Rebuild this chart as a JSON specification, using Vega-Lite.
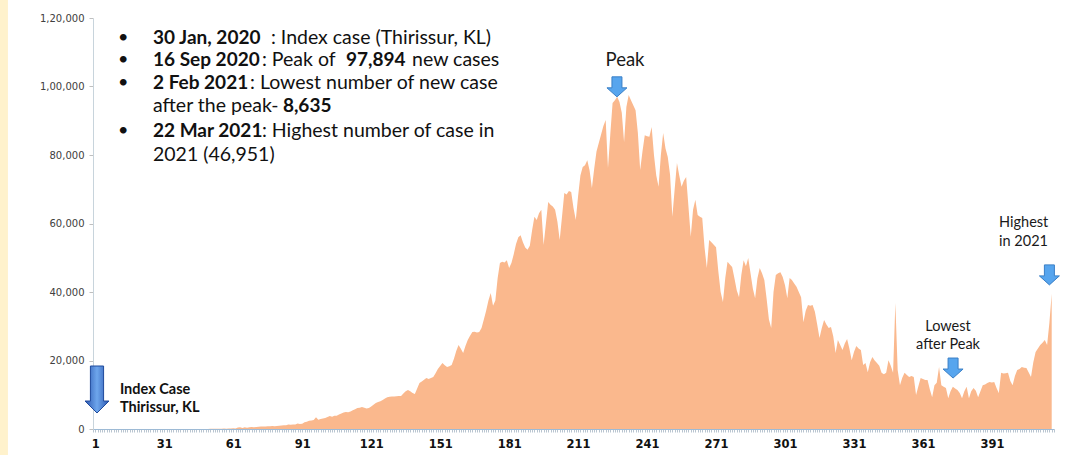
{
  "$schema": "https://vega.github.io/schema/vega-lite/v6.json",
  "width": 961,
  "height": 411,
  "autosize": {"type": "none"},
  "padding": {"left": 93, "top": 18, "right": 38, "bottom": 26},
  "background": "white",
  "config": {"view": {"stroke": null}, "font": "Lato"},
  "datasets": {
    "series": [
      {"day":1,"cases":1},{"day":2,"cases":0},{"day":3,"cases":0},{"day":4,"cases":1},{"day":5,"cases":1},
      {"day":6,"cases":0},{"day":7,"cases":0},{"day":8,"cases":0},{"day":9,"cases":0},{"day":10,"cases":0},
      {"day":11,"cases":0},{"day":12,"cases":0},{"day":13,"cases":0},{"day":14,"cases":0},{"day":15,"cases":0},
      {"day":16,"cases":0},{"day":17,"cases":0},{"day":18,"cases":0},{"day":19,"cases":0},{"day":20,"cases":0},
      {"day":21,"cases":0},{"day":22,"cases":0},{"day":23,"cases":0},{"day":24,"cases":0},{"day":25,"cases":0},
      {"day":26,"cases":0},{"day":27,"cases":0},{"day":28,"cases":0},{"day":29,"cases":0},{"day":30,"cases":0},
      {"day":31,"cases":0},{"day":32,"cases":0},{"day":33,"cases":2},{"day":34,"cases":1},{"day":35,"cases":22},
      {"day":36,"cases":2},{"day":37,"cases":1},{"day":38,"cases":3},{"day":39,"cases":5},{"day":40,"cases":9},
      {"day":41,"cases":15},{"day":42,"cases":8},{"day":43,"cases":10},{"day":44,"cases":12},{"day":45,"cases":10},
      {"day":46,"cases":3},{"day":47,"cases":11},{"day":48,"cases":13},{"day":49,"cases":23},{"day":50,"cases":24},
      {"day":51,"cases":50},{"day":52,"cases":63},{"day":53,"cases":88},{"day":54,"cases":69},{"day":55,"cases":100},
      {"day":56,"cases":64},{"day":57,"cases":125},{"day":58,"cases":75},{"day":59,"cases":171},{"day":60,"cases":160},
      {"day":61,"cases":227},{"day":62,"cases":146},{"day":63,"cases":420},{"day":64,"cases":480},{"day":65,"cases":311},
      {"day":66,"cases":496},{"day":67,"cases":400},{"day":68,"cases":523},{"day":69,"cases":575},{"day":70,"cases":506},
      {"day":71,"cases":566},{"day":72,"cases":680},{"day":73,"cases":720},{"day":74,"cases":760},{"day":75,"cases":700},
      {"day":76,"cases":820},{"day":77,"cases":800},{"day":78,"cases":860},{"day":79,"cases":780},{"day":80,"cases":900},
      {"day":81,"cases":950},{"day":82,"cases":1000},{"day":83,"cases":1080},{"day":84,"cases":1120},{"day":85,"cases":1350},
      {"day":86,"cases":1250},{"day":87,"cases":1300},{"day":88,"cases":1280},{"day":89,"cases":1600},{"day":90,"cases":1460},
      {"day":91,"cases":1550},{"day":92,"cases":2000},{"day":93,"cases":2150},{"day":94,"cases":2400},{"day":95,"cases":2500},
      {"day":96,"cases":2600},{"day":97,"cases":3400},{"day":98,"cases":2700},{"day":99,"cases":2900},{"day":100,"cases":3100},
      {"day":101,"cases":3200},{"day":102,"cases":3500},{"day":103,"cases":3800},{"day":104,"cases":3600},{"day":105,"cases":3900},
      {"day":106,"cases":3850},{"day":107,"cases":4200},{"day":108,"cases":4500},{"day":109,"cases":4800},{"day":110,"cases":5000},
      {"day":111,"cases":4900},{"day":112,"cases":5100},{"day":113,"cases":5500},{"day":114,"cases":5800},{"day":115,"cases":6100},
      {"day":116,"cases":6200},{"day":117,"cases":6400},{"day":118,"cases":6200},{"day":119,"cases":6000},{"day":120,"cases":6100},
      {"day":121,"cases":6600},{"day":122,"cases":7100},{"day":123,"cases":7600},{"day":124,"cases":7900},{"day":125,"cases":8100},
      {"day":126,"cases":8500},{"day":127,"cases":8900},{"day":128,"cases":9300},{"day":129,"cases":9400},{"day":130,"cases":9500},
      {"day":131,"cases":9500},{"day":132,"cases":9550},{"day":133,"cases":9600},{"day":134,"cases":9650},{"day":135,"cases":10400},
      {"day":136,"cases":11000},{"day":137,"cases":11400},{"day":138,"cases":11000},{"day":139,"cases":10500},{"day":140,"cases":10200},
      {"day":141,"cases":11800},{"day":142,"cases":13400},{"day":143,"cases":13900},{"day":144,"cases":14400},{"day":145,"cases":14900},
      {"day":146,"cases":14600},{"day":147,"cases":14900},{"day":148,"cases":15200},{"day":149,"cases":16300},{"day":150,"cases":17500},
      {"day":151,"cases":18400},{"day":152,"cases":19300},{"day":153,"cases":18600},{"day":154,"cases":18100},{"day":155,"cases":18300},
      {"day":156,"cases":18700},{"day":157,"cases":20500},{"day":158,"cases":22800},{"day":159,"cases":24500},{"day":160,"cases":23400},
      {"day":161,"cases":22200},{"day":162,"cases":24200},{"day":163,"cases":26000},{"day":164,"cases":27200},{"day":165,"cases":28300},
      {"day":166,"cases":28400},{"day":167,"cases":28200},{"day":168,"cases":28300},{"day":169,"cases":29500},{"day":170,"cases":32000},
      {"day":171,"cases":34500},{"day":172,"cases":37500},{"day":173,"cases":39700},{"day":174,"cases":36000},{"day":175,"cases":37500},
      {"day":176,"cases":44000},{"day":177,"cases":48500},{"day":178,"cases":48800},{"day":179,"cases":48600},{"day":180,"cases":49300},
      {"day":181,"cases":47000},{"day":182,"cases":48500},{"day":183,"cases":51000},{"day":184,"cases":54000},{"day":185,"cases":56000},
      {"day":186,"cases":56600},{"day":187,"cases":54500},{"day":188,"cases":53000},{"day":189,"cases":52300},{"day":190,"cases":53500},
      {"day":191,"cases":58000},{"day":192,"cases":62000},{"day":193,"cases":61000},{"day":194,"cases":63000},{"day":195,"cases":64000},
      {"day":196,"cases":53700},{"day":197,"cases":60000},{"day":198,"cases":66300},{"day":199,"cases":65500},{"day":200,"cases":65000},
      {"day":201,"cases":64000},{"day":202,"cases":60500},{"day":203,"cases":55200},{"day":204,"cases":62000},{"day":205,"cases":68900},
      {"day":206,"cases":68500},{"day":207,"cases":69500},{"day":208,"cases":69200},{"day":209,"cases":64500},{"day":210,"cases":61000},
      {"day":211,"cases":68000},{"day":212,"cases":74000},{"day":213,"cases":76500},{"day":214,"cases":77000},{"day":215,"cases":78500},
      {"day":216,"cases":75500},{"day":217,"cases":70400},{"day":218,"cases":76000},{"day":219,"cases":81000},{"day":220,"cases":83500},
      {"day":221,"cases":86000},{"day":222,"cases":88500},{"day":223,"cases":90200},{"day":224,"cases":76200},{"day":225,"cases":86000},
      {"day":226,"cases":95200},{"day":227,"cases":96000},{"day":228,"cases":97000},{"day":229,"cases":95500},{"day":230,"cases":92300},
      {"day":231,"cases":83800},{"day":232,"cases":94000},{"day":233,"cases":97500},{"day":234,"cases":96000},{"day":235,"cases":94500},
      {"day":236,"cases":93100},{"day":237,"cases":86400},{"day":238,"cases":75600},{"day":239,"cases":81000},{"day":240,"cases":85800},
      {"day":241,"cases":85500},{"day":242,"cases":85300},{"day":243,"cases":88200},{"day":244,"cases":80000},{"day":245,"cases":74000},
      {"day":246,"cases":70700},{"day":247,"cases":80000},{"day":248,"cases":86400},{"day":249,"cases":82000},{"day":250,"cases":79400},
      {"day":251,"cases":74200},{"day":252,"cases":62000},{"day":253,"cases":70000},{"day":254,"cases":77700},{"day":255,"cases":74000},
      {"day":256,"cases":70700},{"day":257,"cases":72500},{"day":258,"cases":73600},{"day":259,"cases":65000},{"day":260,"cases":56100},
      {"day":261,"cases":64000},{"day":262,"cases":66900},{"day":263,"cases":62500},{"day":264,"cases":62000},{"day":265,"cases":61600},
      {"day":266,"cases":53000},{"day":267,"cases":47000},{"day":268,"cases":55200},{"day":269,"cases":54500},{"day":270,"cases":53800},
      {"day":271,"cases":53100},{"day":272,"cases":46000},{"day":273,"cases":40000},{"day":274,"cases":37100},{"day":275,"cases":44000},
      {"day":276,"cases":48800},{"day":277,"cases":48000},{"day":278,"cases":47300},{"day":279,"cases":44000},{"day":280,"cases":40500},
      {"day":281,"cases":38500},{"day":282,"cases":45000},{"day":283,"cases":49300},{"day":284,"cases":47500},{"day":285,"cases":49900},
      {"day":286,"cases":45500},{"day":287,"cases":41000},{"day":288,"cases":38200},{"day":289,"cases":44000},{"day":290,"cases":47000},
      {"day":291,"cases":45500},{"day":292,"cases":43500},{"day":293,"cases":38000},{"day":294,"cases":32000},{"day":295,"cases":29500},
      {"day":296,"cases":40000},{"day":297,"cases":45000},{"day":298,"cases":45500},{"day":299,"cases":45800},{"day":300,"cases":44400},
      {"day":301,"cases":42000},{"day":302,"cases":38200},{"day":303,"cases":44100},{"day":304,"cases":43500},{"day":305,"cases":42500},
      {"day":306,"cases":41500},{"day":307,"cases":40000},{"day":308,"cases":38500},{"day":309,"cases":31200},{"day":310,"cases":34500},
      {"day":311,"cases":36200},{"day":312,"cases":36000},{"day":313,"cases":36200},{"day":314,"cases":34200},{"day":315,"cases":30500},
      {"day":316,"cases":26600},{"day":317,"cases":29500},{"day":318,"cases":31800},{"day":319,"cases":30500},{"day":320,"cases":29500},
      {"day":321,"cases":29800},{"day":322,"cases":27000},{"day":323,"cases":22200},{"day":324,"cases":26000},{"day":325,"cases":24500},
      {"day":326,"cases":23100},{"day":327,"cases":25000},{"day":328,"cases":26300},{"day":329,"cases":23500},{"day":330,"cases":20100},
      {"day":331,"cases":22500},{"day":332,"cases":24200},{"day":333,"cases":23500},{"day":334,"cases":23100},{"day":335,"cases":18700},
      {"day":336,"cases":19300},{"day":337,"cases":16600},{"day":338,"cases":19500},{"day":339,"cases":21000},{"day":340,"cases":20000},
      {"day":341,"cases":19300},{"day":342,"cases":18500},{"day":343,"cases":16400},{"day":344,"cases":16000},{"day":345,"cases":16400},
      {"day":346,"cases":20100},{"day":347,"cases":18500},{"day":348,"cases":16400},{"day":349,"cases":36800},{"day":350,"cases":17200},
      {"day":351,"cases":12800},{"day":352,"cases":15000},{"day":353,"cases":16400},{"day":354,"cases":15800},{"day":355,"cases":15200},
      {"day":356,"cases":15500},{"day":357,"cases":15200},{"day":358,"cases":9900},{"day":359,"cases":12500},{"day":360,"cases":14900},
      {"day":361,"cases":14600},{"day":362,"cases":14300},{"day":363,"cases":14300},{"day":364,"cases":11500},{"day":365,"cases":9300},
      {"day":366,"cases":12800},{"day":367,"cases":13500},{"day":368,"cases":18100},{"day":369,"cases":12800},{"day":370,"cases":12300},
      {"day":371,"cases":12000},{"day":372,"cases":9000},{"day":373,"cases":11000},{"day":374,"cases":12300},{"day":375,"cases":11800},
      {"day":376,"cases":11400},{"day":377,"cases":10500},{"day":378,"cases":9000},{"day":379,"cases":11000},{"day":380,"cases":12300},
      {"day":381,"cases":9000},{"day":382,"cases":11000},{"day":383,"cases":12000},{"day":384,"cases":11200},{"day":385,"cases":9300},
      {"day":386,"cases":11000},{"day":387,"cases":12800},{"day":388,"cases":13000},{"day":389,"cases":13400},{"day":390,"cases":13700},
      {"day":391,"cases":13600},{"day":392,"cases":13700},{"day":393,"cases":12000},{"day":394,"cases":10500},{"day":395,"cases":16400},
      {"day":396,"cases":16200},{"day":397,"cases":16300},{"day":398,"cases":16400},{"day":399,"cases":14000},{"day":400,"cases":12800},
      {"day":401,"cases":15500},{"day":402,"cases":17200},{"day":403,"cases":17500},{"day":404,"cases":18100},{"day":405,"cases":17900},
      {"day":406,"cases":17800},{"day":407,"cases":16500},{"day":408,"cases":15200},{"day":409,"cases":19500},{"day":410,"cases":22500},
      {"day":411,"cases":23500},{"day":412,"cases":24500},{"day":413,"cases":25200},{"day":414,"cases":26000},{"day":415,"cases":24500},
      {"day":416,"cases":31000},{"day":417,"cases":39500}
    ],
    "bulletDots": [
      {"day":10.9,"cases":114300,"label":"•"},
      {"day":10.9,"cases":107600,"label":"•"},
      {"day":10.9,"cases":100900,"label":"•"},
      {"day":10.9,"cases":87016,"label":"•"}
    ],
    "bulletBold": [
      {"day":26.1,"cases":114300,"label":"30 Jan, 2020"},
      {"day":26.1,"cases":107600,"label":"16 Sep 2020"},
      {"day":110.0,"cases":107600,"label":"97,894"},
      {"day":26.1,"cases":100900,"label":"2 Feb 2021"},
      {"day":82.6,"cases":94300,"label":"8,635"},
      {"day":26.1,"cases":87016,"label":"22 Mar 2021"}
    ],
    "bulletPlain": [
      {"day":77.4,"cases":114300,"label":": Index case (Thirissur, KL)"},
      {"day":73.5,"cases":107600,"label":": Peak  of"},
      {"day":138.8,"cases":107600,"label":"new cases"},
      {"day":68.3,"cases":100900,"label":": Lowest number of new case"},
      {"day":26.1,"cases":94300,"label":"after the peak-"},
      {"day":73.5,"cases":87016,"label":": Highest number of case in"},
      {"day":26.1,"cases":80008,"label":"2021 (46,951)"}
    ]
  },
  "encoding": {
    "x": {
      "field": "day",
      "type": "quantitative",
      "scale": {"domain": [0, 418], "nice": false, "zero": false},
      "axis": {
        "title": null,
        "grid": false,
        "tickCount": 418,
        "labelExpr": "(datum.value - 1) % 30 == 0 ? datum.value : ''",
        "labelOverlap": false,
        "labelFont": "DejaVu Sans",
        "labelFontWeight": "bold",
        "labelFontSize": 11.5,
        "labelColor": "#111111",
        "labelPadding": 6,
        "tickSize": 3,
        "tickColor": "#B9C5D0",
        "tickWidth": 1,
        "domainColor": "#9DBAD5",
        "domainWidth": 1.2
      }
    },
    "y": {
      "field": "cases",
      "type": "quantitative",
      "scale": {"domain": [0, 120000], "nice": false},
      "axis": {
        "title": null,
        "grid": false,
        "values": [0, 20000, 40000, 60000, 80000, 100000, 120000],
        "labelExpr": "datum.value == 120000 ? '1,20,000' : datum.value == 100000 ? '1,00,000' : format(datum.value, ',')",
        "labelFont": "DejaVu Sans",
        "labelFontSize": 10,
        "labelColor": "#404040",
        "labelPadding": 5,
        "tickSize": 4,
        "tickColor": "#BFBFBF",
        "domainColor": "#C8D4DC"
      }
    }
  },
  "layer": [
    {
      "data": {"values": [{"day": -40.5, "cases": 125300, "day2": -37, "cases2": -7600}]},
      "mark": {"type": "rect", "color": "#FFF2CC"},
      "encoding": {"x2": {"field": "day2"}, "y2": {"field": "cases2"}}
    },
    {
      "data": {"name": "series"},
      "mark": {"type": "area", "color": "#FAB88D", "line": false, "interpolate": "linear"}
    },
    {
      "data": {"values": [
        {"day": 227.9, "cases": 99900, "label": "peak"},
        {"day": 374.1, "cases": 17800, "label": "lowest"},
        {"day": 416.0, "cases": 45000, "label": "highest"}
      ]},
      "mark": {
        "type": "point",
        "shape": "M-0.5,-1L0.5,-1L0.5,0.1L1,0.1L0,1L-1,0.1L-0.5,0.1Z",
        "size": 400,
        "filled": true,
        "fill": "#57A5EE",
        "stroke": "#3A7FC6",
        "strokeWidth": 1,
        "opacity": 1
      }
    },
    {
      "data": {"values": [{"day": 1.74, "cases": 11530, "label": "index"}]},
      "mark": {
        "type": "point",
        "shape": "M-0.28,-1L0.28,-1L0.28,0.49L0.51,0.49L0,1L-0.51,0.49L-0.28,0.49Z",
        "size": 2209,
        "filled": true,
        "fill": {"gradient": "linear", "x1": 0, "x2": 1, "y1": 0, "y2": 0, "stops": [{"offset": 0, "color": "#2A56B0"}, {"offset": 0.5, "color": "#6EA6EC"}, {"offset": 1, "color": "#2A56B0"}]},
        "stroke": "#1F4A9C",
        "strokeWidth": 1,
        "opacity": 1
      }
    },
    {
      "data": {"values": [{"day": 231.4, "cases": 107800, "label": "Peak"}]},
      "mark": {"type": "text", "font": "Lato", "fontSize": 18.5, "align": "center", "baseline": "middle", "color": "#1A1A1A"},
      "encoding": {"text": {"field": "label"}}
    },
    {
      "data": {"values": [{"day": 371.9, "cases": 29800, "label": "Lowest\nafter Peak"}]},
      "mark": {"type": "text", "font": "Lato", "fontSize": 14.5, "lineHeight": 18, "lineBreak": "\n", "align": "center", "baseline": "middle", "color": "#1A1A1A"},
      "encoding": {"text": {"field": "label"}}
    },
    {
      "data": {"values": [{"day": 394.1, "cases": 60150, "label": "Highest\nin 2021"}]},
      "mark": {"type": "text", "font": "Lato", "fontSize": 14.5, "lineHeight": 19, "lineBreak": "\n", "align": "left", "baseline": "middle", "color": "#1A1A1A"},
      "encoding": {"text": {"field": "label"}}
    },
    {
      "data": {"values": [{"day": 11.7, "cases": 11400, "label": "Index Case\nThirissur, KL"}]},
      "mark": {"type": "text", "font": "Lato", "fontSize": 14.5, "fontWeight": "bold", "lineHeight": 18, "lineBreak": "\n", "align": "left", "baseline": "middle", "color": "#111111"},
      "encoding": {"text": {"field": "label"}}
    },
    {
      "data": {"name": "bulletDots"},
      "mark": {"type": "text", "font": "Lato", "fontSize": 18, "align": "left", "baseline": "middle", "color": "#111111"},
      "encoding": {"text": {"field": "label"}}
    },
    {
      "data": {"name": "bulletBold"},
      "mark": {"type": "text", "font": "Lato", "fontSize": 19, "fontWeight": "bold", "align": "left", "baseline": "middle", "color": "#111111"},
      "encoding": {"text": {"field": "label"}}
    },
    {
      "data": {"name": "bulletPlain"},
      "mark": {"type": "text", "font": "Lato", "fontSize": 19.5, "align": "left", "baseline": "middle", "color": "#111111"},
      "encoding": {"text": {"field": "label"}}
    }
  ]
}
